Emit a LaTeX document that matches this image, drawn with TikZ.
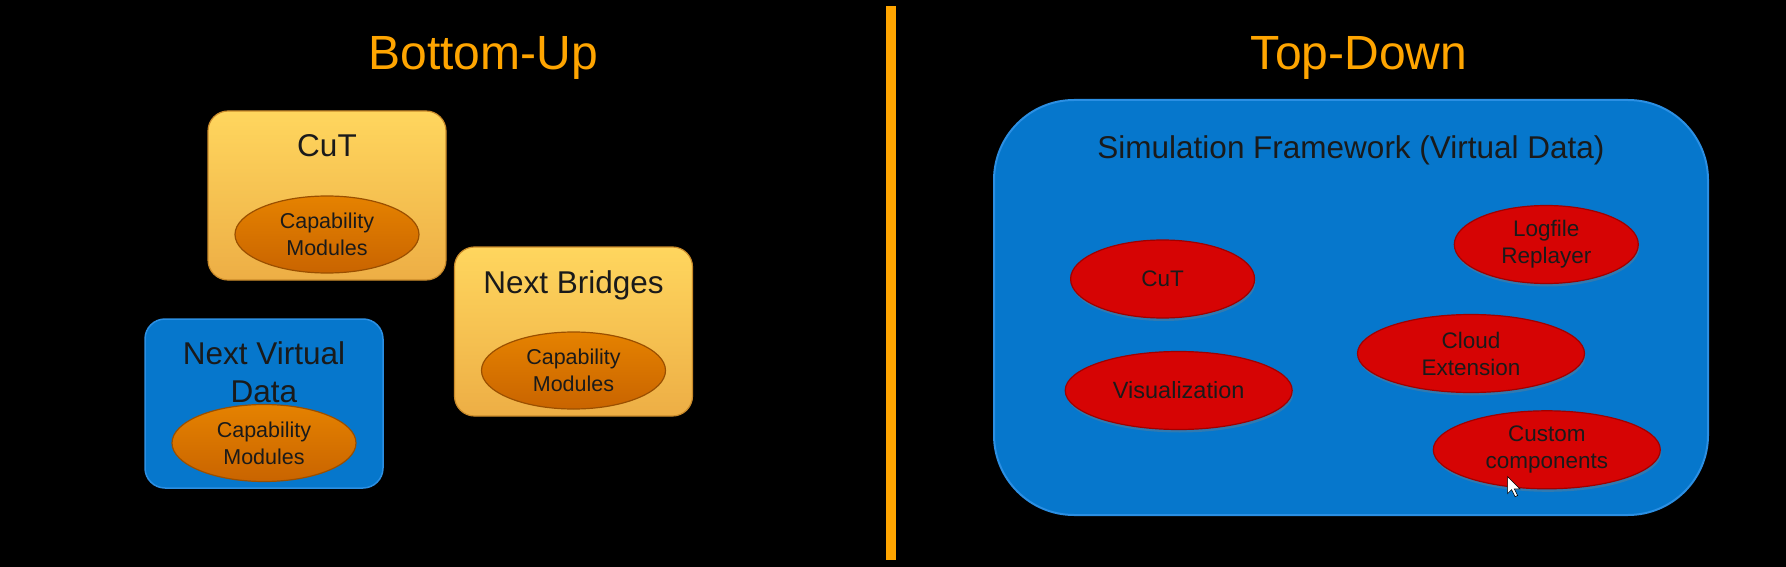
\documentclass[tikz,border=0pt]{standalone}
\usepackage{fontspec}
\setmainfont{Liberation Sans}
\usetikzlibrary{shapes.geometric,shadows}
\definecolor{ttl}{HTML}{FFA500}
\definecolor{dtext}{HTML}{1A1A1A}
\definecolor{ytop}{HTML}{FFD65E}
\definecolor{ybot}{HTML}{EDAE45}
\definecolor{yedge}{HTML}{C98A2A}
\definecolor{otop}{HTML}{E58200}
\definecolor{obot}{HTML}{C96400}
\definecolor{oedge}{HTML}{9A4F00}
\definecolor{bfill}{HTML}{0677CC}
\definecolor{bedge}{HTML}{2B8FE3}
\definecolor{rfill}{HTML}{D60404}
\definecolor{redge}{HTML}{A00000}
\begin{document}
\begin{tikzpicture}[x=1pt,y=-1pt,
  heading/.style={text=ttl, font=\fontsize{48}{58}\selectfont, anchor=base, inner sep=0pt},
  boxtitle/.style={text=dtext, font=\fontsize{31.5}{38}\selectfont, anchor=base, inner sep=0pt, align=center},
  ybox/.style={rectangle, rounded corners=20pt, minimum width=238pt, minimum height=169pt, inner sep=0pt,
    top color=ytop, bottom color=ybot, draw=yedge, line width=1.2pt},
  bbox/.style={rectangle, rounded corners=20pt, minimum width=238pt, minimum height=169pt, inner sep=0pt,
    fill=bfill, draw=bedge, line width=1.5pt},
  capell/.style={ellipse, minimum width=184pt, minimum height=77pt, inner sep=0pt,
    top color=otop, bottom color=obot, draw=oedge, line width=1.2pt, align=center,
    text=dtext, font=\fontsize{21.5}{27}\selectfont},
  redell/.style={ellipse, minimum height=78pt, inner sep=0pt, fill=rfill, draw=redge, line width=1.2pt,
    align=center, text=dtext, font=\fontsize{22.5}{27}\selectfont,
    drop shadow={shadow xshift=1pt, shadow yshift=-3pt, opacity=0.35}},
  cursorshape/.style={fill=white, draw=black, line width=0.6pt, line join=miter}
]
\fill[black] (0,0) rectangle (1786,567);
\useasboundingbox (0,0) rectangle (1786,567);

% divider
\fill[ttl] (886,6) rectangle (896,560);

% headings
\node[heading] (hbu) at (483,70) {Bottom-Up};
\node[heading] (htd) at (1359,70) {Top-Down};

% Bottom-Up side
\node[ybox] (cutbox) at (327,195.5) {};
\node[boxtitle] (cuttitle) at (327,156.7) {CuT};
\node[capell] (cutcap) at (327,234.5) {Capability\\Modules};

\node[ybox] (nbbox) at (573.5,331.5) {};
\node[boxtitle] (nbtitle) at (573.5,293.3) {Next Bridges};
\node[capell] (nbcap) at (573.5,370.5) {Capability\\Modules};

\node[bbox] (nvdbox) at (264,403.5) {};
\node[boxtitle] (nvdtitle) at (264,402.3) {Next Virtual\\Data};
\node[capell] (nvdcap) at (264,443) {Capability\\Modules};

% Top-Down side
\node[rectangle, rounded corners=80pt, minimum width=714pt, minimum height=415pt, inner sep=0pt,
  fill=bfill, draw=bedge, line width=2pt] (simbox) at (1351,307.5) {};
\node[boxtitle] (simtitle) at (1351,159) {Simulation Framework (Virtual Data)};

\node[redell, minimum width=184pt] (rcut) at (1162.6,279) {CuT};
\node[redell, minimum width=184pt] (rlog) at (1546.3,244.5) {Logfile\\Replayer};
\node[redell, minimum width=227pt] (rcloud) at (1471,353.5) {Cloud\\Extension};
\node[redell, minimum width=227pt, font=\fontsize{23.5}{27}\selectfont] (rvis) at (1178.7,390.5) {Visualization};
\node[redell, minimum width=227pt] (rcust) at (1546.8,449.8) {Custom\\components};

% mouse pointer
\draw[cursorshape] (1507.6,476.7) -- ++(0,17) -- ++(4,-4) -- ++(3.5,7) -- ++(2.5,-1.2) -- ++(-3.3,-6.6) -- ++(5.6,0) -- cycle;
\end{tikzpicture}
\end{document}
